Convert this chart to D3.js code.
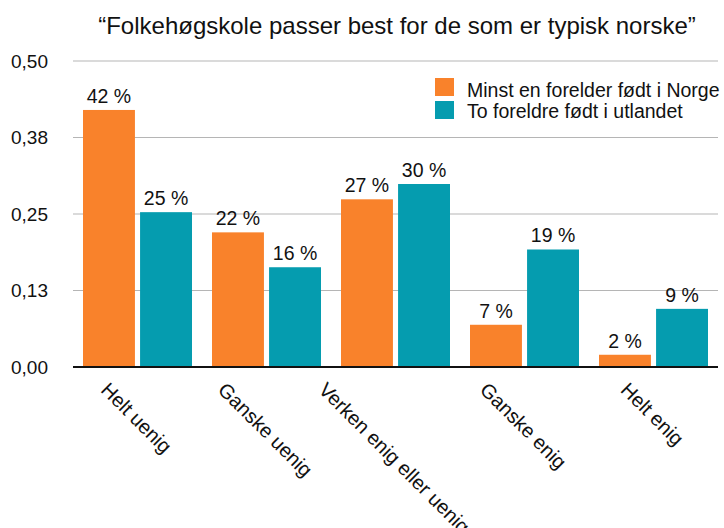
<!DOCTYPE html>
<html>
<head>
<meta charset="utf-8">
<script src="https://cdn.jsdelivr.net/npm/d3@7"></script>
<style>
  body { margin: 0; background: #fff; }
  text { font-family: "Liberation Sans", Arial, Helvetica, sans-serif; fill: #111; }
</style>
</head>
<body>
<div id="chart"></div>
<script>
// Chart data
var categories = ["Helt uenig", "Ganske uenig", "Verken enig eller uenig", "Ganske enig", "Helt enig"];
var seriesNames = ["Minst en forelder født i Norge", "To foreldre født i utlandet"];
var norge = [0.42, 0.22, 0.274, 0.069, 0.02];
var utland = [0.253, 0.163, 0.299, 0.192, 0.095];
var norgeLabels = ["42 %", "22 %", "27 %", "7 %", "2 %"];
var utlandLabels = ["25 %", "16 %", "30 %", "19 %", "9 %"];
var yTicks = [0, 0.125, 0.25, 0.375, 0.5];
var yTickLabels = ["0,00", "0,13", "0,25", "0,38", "0,50"];
var colors = ["#f9822b", "#059caf"];

var svgWidth = 724;
var svgHeight = 528;
var margin = { top: 61, right: 6, bottom: 161, left: 73 };
var width = svgWidth - margin.left - margin.right;
var height = svgHeight - margin.top - margin.bottom;

var svg = d3.select("#chart")
  .append("svg")
  .attr("width", svgWidth)
  .attr("height", svgHeight);

// Title
svg.append("text")
  .attr("x", 397)
  .attr("y", 34)
  .attr("text-anchor", "middle")
  .style("font-size", "24px")
  .text("\u201cFolkehøgskole passer best for de som er typisk norske\u201d");

var chartGroup = svg.append("g")
  .attr("transform", `translate(${margin.left}, ${margin.top})`);

var x0 = d3.scaleBand()
  .domain(categories)
  .range([0, width])
  .paddingInner(0)
  .paddingOuter(0);

var x1 = d3.scaleBand()
  .domain([0, 1])
  .range([10, x0.bandwidth() - 10])
  .paddingInner(0.09);

var yScale = d3.scaleLinear()
  .domain([0, 0.5])
  .range([height, 0]);

// Gridlines
chartGroup.selectAll(".grid")
  .data(yTicks.slice(1))
  .enter()
  .append("line")
  .attr("x1", 0)
  .attr("x2", width)
  .attr("y1", d => yScale(d))
  .attr("y2", d => yScale(d))
  .attr("stroke", "#b5b5b5")
  .attr("stroke-width", 1.2);

// Y tick labels
svg.selectAll(".ylab")
  .data(yTicks)
  .enter()
  .append("text")
  .attr("x", 11)
  .attr("y", d => margin.top + yScale(d))
  .attr("dy", "0.36em")
  .style("font-size", "19px")
  .text((d, i) => yTickLabels[i]);

// Bars
var series = [norge, utland];
var labels = [norgeLabels, utlandLabels];

series.forEach(function (vals, s) {
  chartGroup.selectAll(".bar" + s)
    .data(vals)
    .enter()
    .append("rect")
    .attr("x", (d, i) => x0(categories[i]) + x1(s))
    .attr("y", d => yScale(d))
    .attr("width", x1.bandwidth())
    .attr("height", d => height - yScale(d))
    .attr("fill", colors[s]);

  chartGroup.selectAll(".val" + s)
    .data(vals)
    .enter()
    .append("text")
    .attr("x", (d, i) => x0(categories[i]) + x1(s) + x1.bandwidth() / 2)
    .attr("y", d => yScale(d) - 7)
    .attr("text-anchor", "middle")
    .style("font-size", "19.5px")
    .text((d, i) => labels[s][i]);
});

// Baseline
chartGroup.append("line")
  .attr("x1", 0)
  .attr("x2", width)
  .attr("y1", height)
  .attr("y2", height)
  .attr("stroke", "#111")
  .attr("stroke-width", 2);

// Rotated category labels
chartGroup.selectAll(".xlab")
  .data(categories)
  .enter()
  .append("text")
  .style("font-size", "20px")
  .attr("dy", "0.35em")
  .text(d => d)
  .attr("transform", function (d) {
    var len = this.getComputedTextLength();
    var cx = x0(d) + x0.bandwidth() / 2 - len * 0.354 - 1;
    return `translate(${cx}, ${height + 19}) rotate(45)`;
  });

// Legend
var legend = svg.append("g")
  .attr("transform", "translate(435, 78)");

seriesNames.forEach(function (name, i) {
  legend.append("rect")
    .attr("x", 0)
    .attr("y", i * 23)
    .attr("width", 19)
    .attr("height", 18)
    .attr("fill", colors[i]);
  legend.append("text")
    .attr("x", 32)
    .attr("y", i * 21 + 19)
    .style("font-size", "19.5px")
    .text(name);
});
</script>
</body>
</html>
